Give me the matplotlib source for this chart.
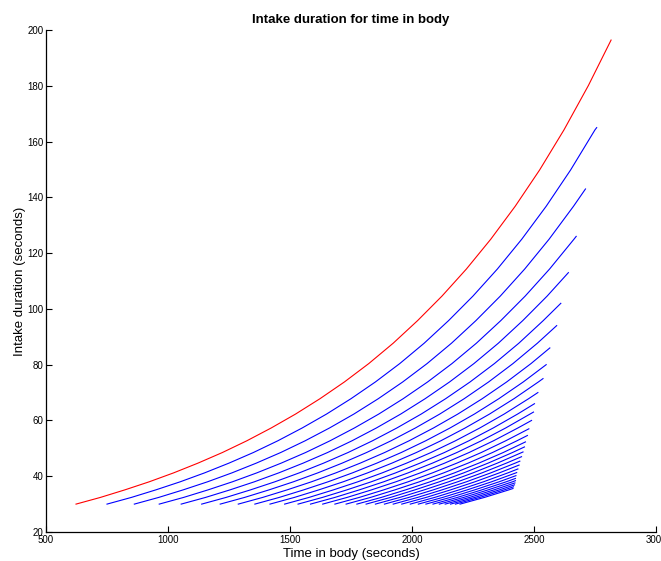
import numpy as np
import matplotlib
matplotlib.use("Agg")
import matplotlib.pyplot as plt

plt.rcParams['font.family'] = ['Liberation Sans', 'DejaVu Sans']

# shape of the curves: seconds after its start vs duration
profile_dt = [0, 100, 200, 300, 400, 500, 600, 700, 800, 900, 1000, 1100,
              1200, 1300, 1400, 1500, 1600, 1700, 1800, 1900, 2000, 2100, 2193]
profile_y = [30.0, 32.4, 35.1, 38.0, 41.2, 44.7, 48.5, 52.7, 57.3, 62.3, 67.8, 73.8,
             80.4, 87.7, 95.8, 104.6, 114.3, 125.0, 136.8, 149.8, 164.2, 180.1, 196.4]

red_start = 623

# blue curves: start time (duration 30 s) and end point
blue_start = [750, 862, 964, 1054, 1138, 1214, 1288, 1356, 1418, 1478,
              1533, 1584, 1634, 1684, 1730, 1774, 1812, 1850, 1887, 1923,
              1958, 1993, 2026, 2057, 2086, 2112, 2136, 2158, 2178, 2197]
blue_end_x = [2757, 2711, 2673, 2641, 2610, 2593, 2565, 2550, 2537, 2516,
              2502, 2498, 2490, 2479, 2473, 2465, 2461, 2455, 2449, 2442,
              2439, 2434, 2429, 2426, 2424, 2424, 2422, 2420, 2416, 2414]
blue_end_y = [165, 143, 126, 113, 102, 94, 86, 80, 75, 70,
              66, 63, 60, 57, 54.6, 52.3, 50.5, 48.7, 47.0, 45.4,
              44.0, 42.6, 41.3, 40.2, 39.2, 38.4, 37.6, 36.9, 36.2, 35.6]

fig = plt.figure(figsize=(6.61, 5.61), dpi=100)
ax = fig.add_axes([0.0696, 0.0517, 0.9228, 0.8948])

dt = np.array(profile_dt)
py = np.array(profile_y)

for s, ex, ey in zip(blue_start, blue_end_x, blue_end_y):
  keep = dt < ex - s
  xs = np.append(s + dt[keep], ex)
  ys = np.append(py[keep], ey)
  ax.plot(xs, ys, color='blue', linewidth=0.8)

ax.plot(red_start + dt, py, color='red', linewidth=0.8)

ax.set_xlim(500, 3000)
ax.set_ylim(20, 200)
ax.set_xticks(np.arange(500, 3001, 500))
ax.set_yticks(np.arange(20, 201, 20))
ax.tick_params(direction='in', length=4, width=0.8, labelsize=7, pad=2)
for side in ['top', 'right']:
  ax.spines[side].set_visible(False)
for side in ['left', 'bottom']:
  ax.spines[side].set_linewidth(0.9)

ax.set_title('Intake duration for time in body', fontsize=9.5, fontweight='bold', pad=5)
ax.set_xlabel('Time in body (seconds)', fontsize=9.5, labelpad=2)
ax.set_ylabel('Intake duration (seconds)', fontsize=9.5, labelpad=1)

fig.savefig('out.png', dpi=100)
